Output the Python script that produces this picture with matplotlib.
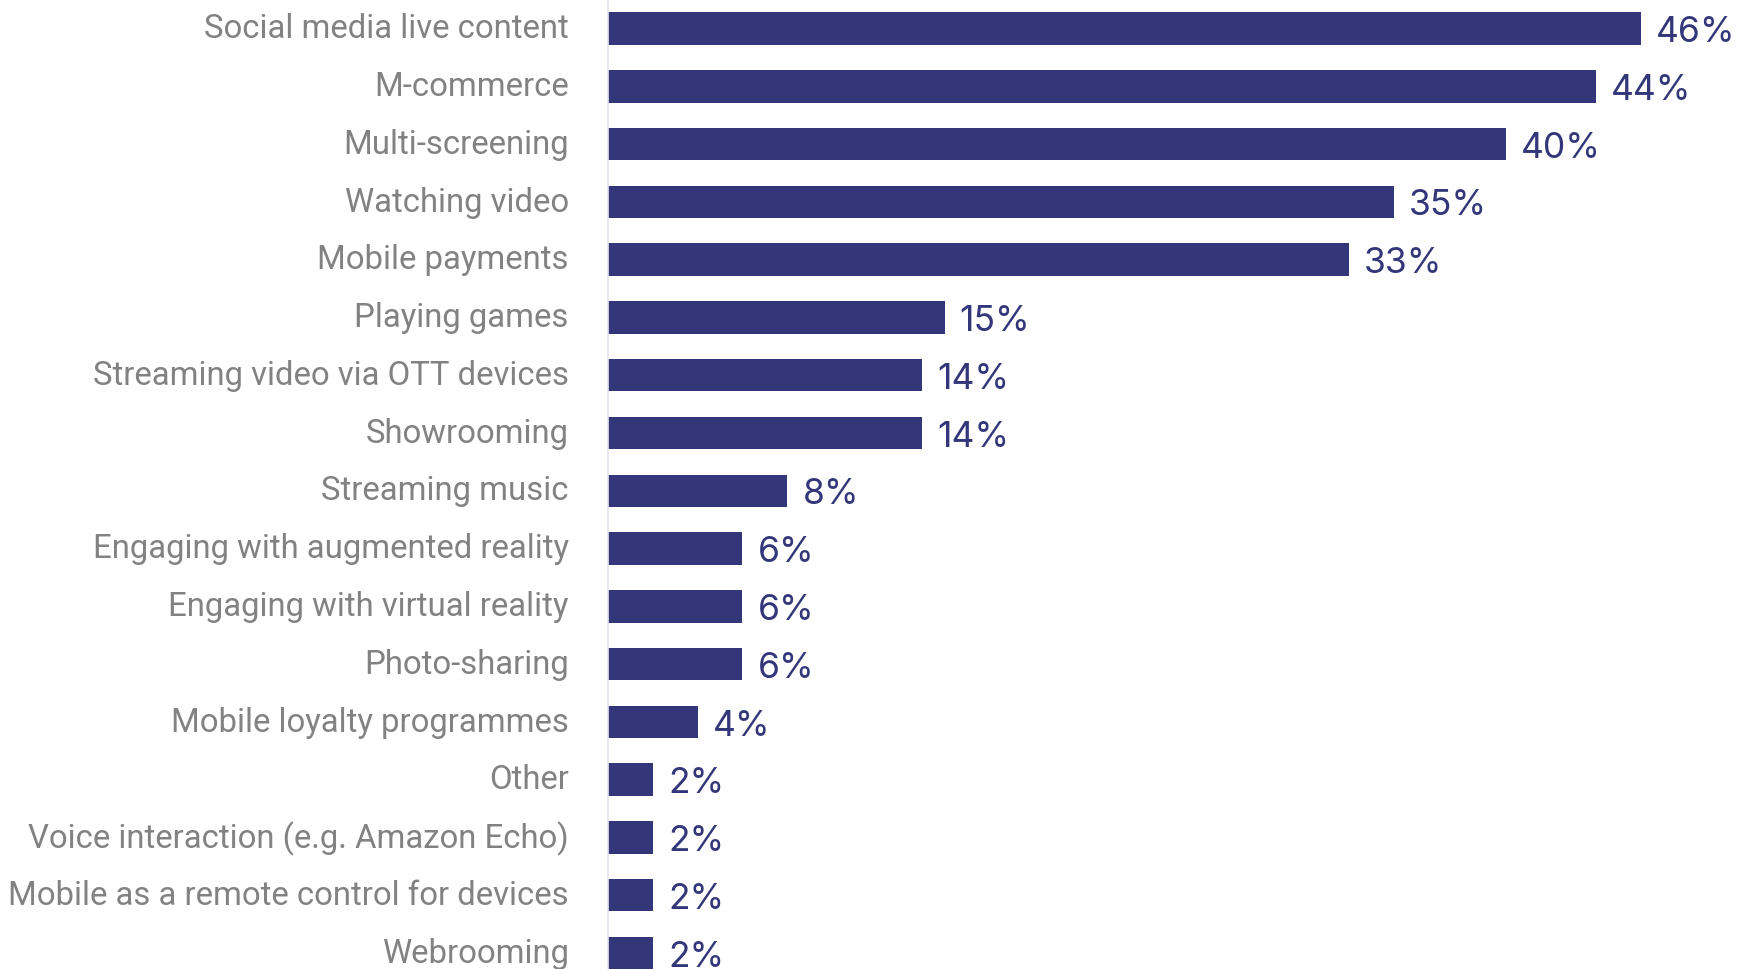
import matplotlib
matplotlib.use('Agg')
from matplotlib import pyplot as plt
from matplotlib.transforms import ScaledTranslation

activities = [
    'Social media live content',
    'M-commerce',
    'Multi-screening',
    'Watching video',
    'Mobile payments',
    'Playing games',
    'Streaming video via OTT devices',
    'Showrooming',
    'Streaming music',
    'Engaging with augmented reality',
    'Engaging with virtual reality',
    'Photo-sharing',
    'Mobile loyalty programmes',
    'Other',
    'Voice interaction (e.g. Amazon Echo)',
    'Mobile as a remote control for devices',
    'Webrooming',
]

shares = [46, 44, 40, 35, 33, 15, 14, 14, 8, 6, 6, 6, 4, 2, 2, 2, 2]

bar_color = '#33377a'
label_color = '#828282'
axis_color = '#e4e4f0'

fig = plt.figure(figsize=(17.55, 9.69), dpi=100)
ax = fig.add_axes([0.3463, 0, 1 - 0.3463, 1])

positions = list(range(len(activities)))
ax.barh(positions, shares, height=0.562, color=bar_color, zorder=2)

for y, v in zip(positions, shares):
    ax.annotate(f'{v}%', xy=(v, y), xytext=(11, -3), textcoords='offset points',
                ha='left', va='center', fontsize=25.5, family='Inter',
                color=bar_color)

ax.set_xlim(0, 51.1)
ax.set_ylim(16.277, -0.493)

ax.set_yticks(positions)
ax.set_yticklabels(activities, fontsize=23.7, family='Roboto', color=label_color)
ax.tick_params(axis='y', length=0, pad=28)
ax.set_xticks([])

# nudge category labels up a touch
shift = ScaledTranslation(0, 2 / 72, fig.dpi_scale_trans)
for lbl in ax.get_yticklabels():
    lbl.set_transform(lbl.get_transform() + shift)

for side in ['top', 'right', 'bottom']:
    ax.spines[side].set_visible(False)
ax.spines['left'].set_color(axis_color)
ax.spines['left'].set_linewidth(1.2)

fig.savefig('out.png', dpi=100)
